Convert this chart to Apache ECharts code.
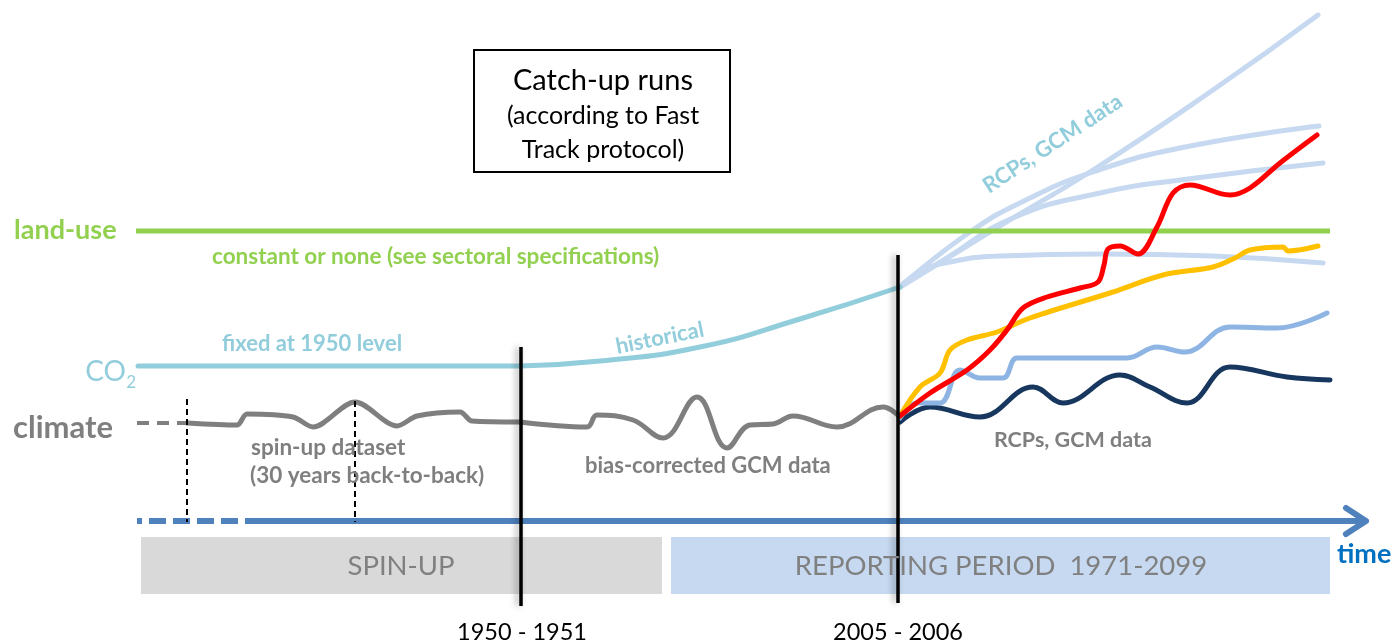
<!DOCTYPE html>
<html>
<head>
<meta charset="utf-8">
<script src="https://cdn.jsdelivr.net/npm/echarts@6/dist/echarts.min.js"></script>
<style>
  html, body { margin: 0; padding: 0; background: #fff; }
  #chart { width: 1394px; height: 643px; }
</style>
</head>
<body>
<div id="chart"></div>
<script>
// schematic coordinates: x = time position, y = level (inverted, top = 0)
const landUse = [[136, 231], [1330, 231]]
const co2Fixed = [[138, 366], [520, 366]]
const co2Historical = [[520, 366], [600, 361], [700, 347], [800, 319], [900, 287]]

const rcpFan1 = [[900, 287], [993, 230], [1093, 170], [1213, 90], [1318, 15]]
const rcpFan2 = [[900, 287], [970, 232], [1030, 198], [1093, 172], [1180, 148], [1319, 126]]
const rcpFan3 = [[900, 287], [947, 258], [1013, 218], [1100, 193], [1180, 180], [1323, 163]]
const rcpFan4 = [[900, 287], [920, 272], [950, 262], [1000, 256], [1100, 254], [1213, 256], [1323, 263]]

const climateLead = [[137, 423], [187, 423]]
const climateSpinup = [[187, 423], [237, 425], [247, 414], [293, 417], [313, 427], [355, 402],
  [397, 426], [417, 416], [460, 412], [472, 421], [520, 422]]
const climateBias = [[520, 422], [587, 427], [597, 415], [633, 420], [663, 438], [697, 397],
  [727, 448], [750, 425], [773, 424], [793, 416], [837, 427], [883, 407], [900, 417]]

const rcpRed = [[900, 416], [930, 393], [967, 370], [990, 350], [1007, 330], [1023, 308],
  [1047, 297], [1080, 288], [1098, 282], [1104, 265], [1108, 249], [1120, 246], [1138, 254],
  [1157, 227], [1173, 193], [1190, 185], [1230, 195], [1250, 188], [1280, 163], [1317, 135]]
const rcpYellow = [[900, 416], [920, 387], [940, 373], [950, 350], [967, 340], [997, 332],
  [1030, 318], [1113, 292], [1163, 275], [1213, 267], [1235, 258], [1250, 250], [1283, 247],
  [1288, 251], [1318, 246]]
const rcpMidBlue = [[900, 418], [917, 403], [940, 403], [960, 370], [980, 378], [1003, 378],
  [1017, 358], [1047, 358], [1127, 358], [1157, 347], [1185, 352], [1230, 327], [1277, 328],
  [1327, 313]]
const rcpNavy = [[900, 422], [930, 407], [980, 417], [1033, 387], [1063, 403], [1120, 375],
  [1150, 387], [1187, 403], [1230, 367], [1287, 377], [1330, 380]]

const timeDashed = [[137, 521], [247, 521]]
const timeSolid = [[247, 521], [1362, 521]]
const timeArrow = [[1346, 508], [1366, 521], [1346, 534]]
const spinDashA = [[187, 399], [187, 522]]
const spinDashB = [[355, 401], [355, 522]]
const cut1950 = [[521, 347], [521, 606]]
const cut2005 = [[898, 255], [898, 603]]

const periodBoxes = [
  { name: 'SPIN-UP', from: [141, 537], to: [662, 594], color: '#d9d9d9' },
  { name: 'REPORTING PERIOD  1971-2099', from: [671, 537], to: [1330, 594], color: '#c6d9f0' }
]
const titleBox = { from: [474, 50], to: [730, 172] }
const cutLabels = ['1950 - 1951', '2005 - 2006']

const FONT = 'Lato, "Open Sans", sans-serif'
const GREEN = '#92d050'
const CO2_BLUE = '#92cddc'
const GREY = '#7f7f7f'
const FAN = '#c6d9f0'

const chart = echarts.init(document.getElementById('chart'))

const line = (data, color, width, extra = {}) => ({
  type: 'line',
  data,
  symbol: 'none',
  silent: true,
  animation: false,
  smooth: extra.smooth ?? false,
  z: extra.z ?? 3,
  lineStyle: Object.assign({ color, width, cap: 'round', join: 'round' }, extra.style || {})
})

const text = (x, y, str, size, color, opts = {}) => ({
  type: 'text',
  x, y,
  rotation: opts.rotation || 0,
  z: 20,
  style: {
    text: str,
    fontSize: size,
    fontWeight: opts.weight || 'normal',
    fontFamily: FONT,
    fill: color,
    align: opts.align || 'left',
    verticalAlign: 'middle'
  }
})

const vShadow = { shadowBlur: 6, shadowColor: 'rgba(0,0,0,0.35)', shadowOffsetX: -3 }

chart.setOption({
  animation: false,
  grid: { left: 0, right: 0, top: 0, bottom: 0 },
  xAxis: { type: 'value', min: 0, max: 1394, show: false },
  yAxis: { type: 'value', min: 0, max: 643, inverse: true, show: false },
  series: [
    {
      type: 'line',
      data: [],
      silent: true,
      z: 1,
      markArea: {
        silent: true,
        data: periodBoxes.map(b => [
          { coord: b.from, itemStyle: { color: b.color } },
          { coord: b.to }
        ]).concat([[
          { coord: titleBox.from, itemStyle: { color: 'rgba(0,0,0,0)', borderColor: '#000', borderWidth: 2 } },
          { coord: titleBox.to }
        ]])
      }
    },
    line(landUse, GREEN, 5, { style: { cap: 'butt' } }),
    line(co2Fixed, CO2_BLUE, 5),
    line(co2Historical, CO2_BLUE, 5, { smooth: 0.5 }),
    line(rcpFan1, FAN, 5, { smooth: 0.5, z: 2 }),
    line(rcpFan2, FAN, 5, { smooth: 0.5, z: 2 }),
    line(rcpFan3, FAN, 5, { smooth: 0.5, z: 2 }),
    line(rcpFan4, FAN, 5, { smooth: 0.5, z: 2 }),
    line(climateLead, GREY, 4, { style: { type: [12, 8], cap: 'butt' } }),
    line(climateSpinup, GREY, 5, { smooth: 0.3 }),
    line(climateBias, GREY, 5, { smooth: 0.4 }),
    line(rcpNavy, '#17375e', 5, { smooth: 0.4 }),
    line(rcpMidBlue, '#8db4e2', 5, { smooth: 0.4 }),
    line(rcpYellow, '#ffc000', 5, { smooth: 0.35 }),
    line(rcpRed, '#ff0000', 5, { smooth: 0.35 }),
    line(timeDashed, '#4f81bd', 6, { style: { type: [17, 7], dashOffset: 12, cap: 'butt' } }),
    line(timeSolid, '#4f81bd', 6, { style: { cap: 'butt' } }),
    line(timeArrow, '#4f81bd', 6),
    line(spinDashA, '#000', 2, { style: { type: [6, 4], cap: 'butt' }, z: 5 }),
    line(spinDashB, '#000', 2, { style: { type: [6, 4], cap: 'butt' }, z: 5 }),
    line(cut1950, '#000', 3.5, { style: Object.assign({ cap: 'butt' }, vShadow), z: 6 }),
    line(cut2005, '#000', 3.5, { style: Object.assign({ cap: 'butt' }, vShadow), z: 6 })
  ],
  graphic: [
    text(603, 81, 'Catch-up runs', 29, '#000', { align: 'center' }),
    text(603, 116, '(according to Fast', 25, '#000', { align: 'center' }),
    text(603, 150, 'Track protocol)', 25, '#000', { align: 'center' }),
    text(14, 230, 'land-use', 27, GREEN, { weight: 'bold' }),
    text(212, 257, 'constant or none (see sectoral specifications)', 22.5, GREEN, { weight: 'bold' }),
    text(126, 372, 'CO', 28, CO2_BLUE, { align: 'right' }),
    text(136, 383, '2', 17, CO2_BLUE, { align: 'right' }),
    text(222, 344, 'fixed at 1950 level', 22, CO2_BLUE, { weight: 'bold' }),
    text(616, 347, 'historical', 22, CO2_BLUE, { weight: 'bold', rotation: 0.2 }),
    text(985, 188, 'RCPs, GCM data', 22, CO2_BLUE, { weight: 'bold', rotation: 0.58 }),
    text(13, 428, 'climate', 31, GREY, { weight: 'bold' }),
    text(251, 448, 'spin-up dataset', 22.5, GREY, { weight: 'bold' }),
    text(250, 476, '(30 years back-to-back)', 22.5, GREY, { weight: 'bold' }),
    text(585, 466, 'bias-corrected GCM data', 22, GREY, { weight: 'bold' }),
    text(994, 440, 'RCPs, GCM data', 21.5, GREY, { weight: 'bold' }),
    text(401, 566, periodBoxes[0].name, 27.5, '#808080', { align: 'center' }),
    text(1001, 566, periodBoxes[1].name, 27.5, '#808080', { align: 'center' }),
    text(1337, 554, 'time', 27, '#0070c0', { weight: 'bold' }),
    text(522, 632, cutLabels[0], 23.5, '#000', { align: 'center' }),
    text(898, 632, cutLabels[1], 23.5, '#000', { align: 'center' })
  ]
})
</script>
</body>
</html>
